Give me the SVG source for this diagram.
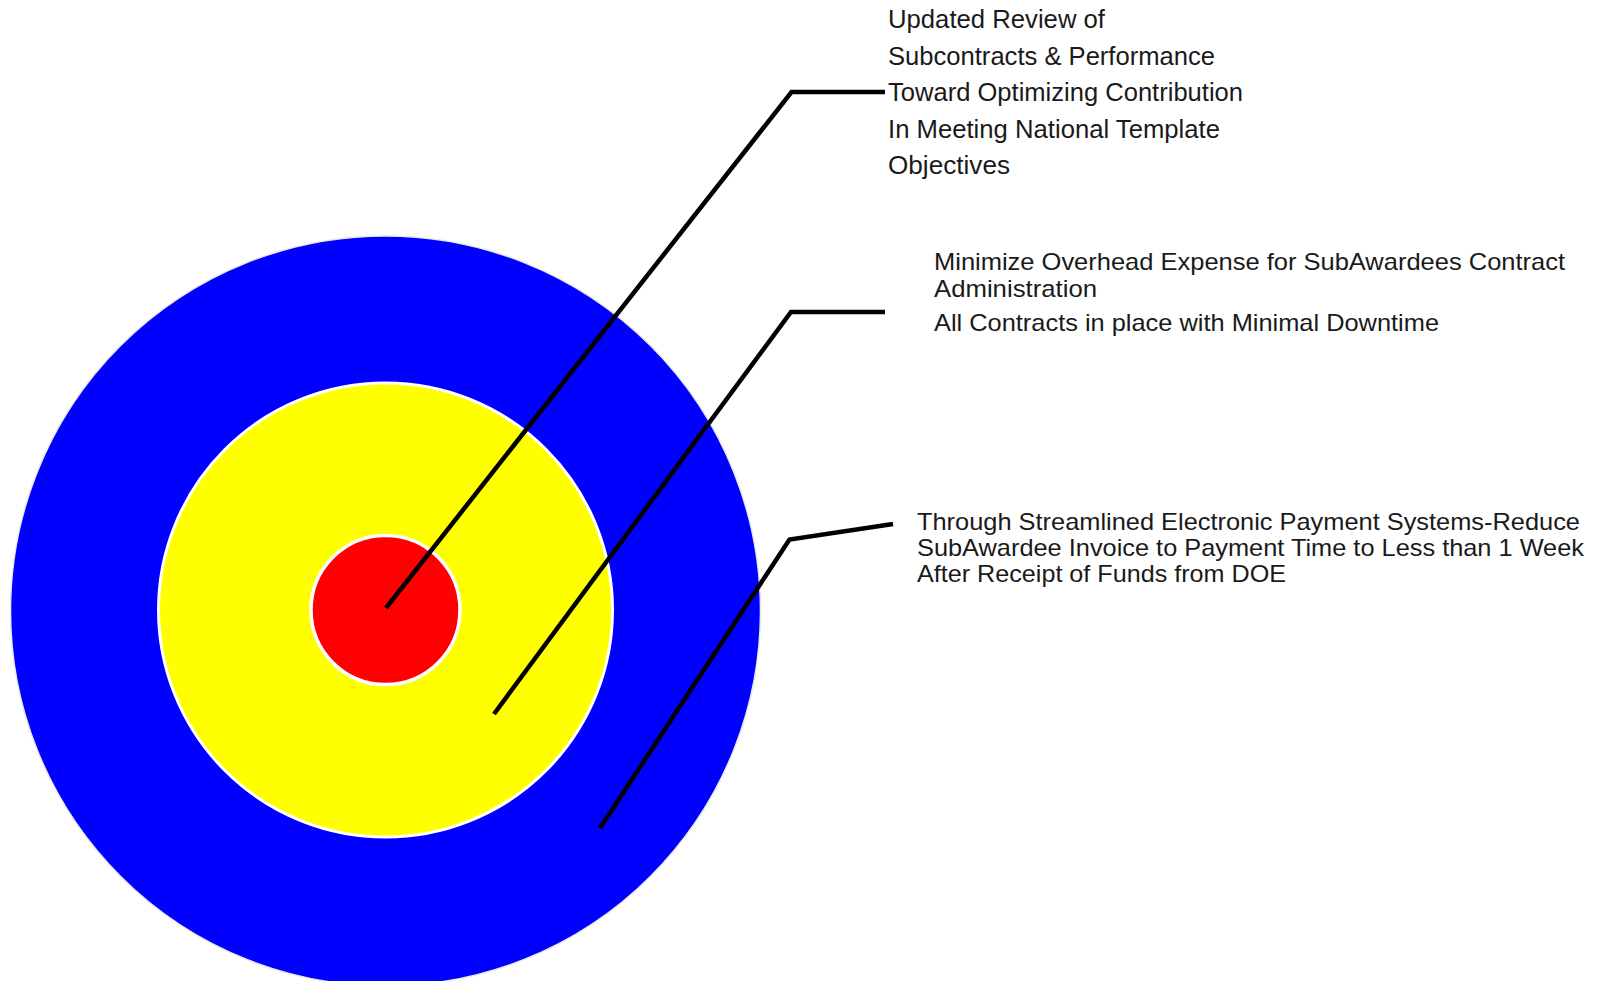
<svg xmlns="http://www.w3.org/2000/svg" width="1606" height="981" viewBox="0 0 1606 981">
  <style>
    .lbl { font-family: "Liberation Sans", Arial, sans-serif; font-size: 24px; fill: #1a1a1a; }
    .big { font-size: 25px; }
    .conn { fill: none; stroke: #000; stroke-width: 4.5; stroke-linejoin: miter; stroke-linecap: butt; }
  </style>
  <rect width="1606" height="981" fill="#fff"/>
  <g id="target">
    <circle id="ring-outer" cx="385.5" cy="611" r="375" fill="#0000ff" stroke="#e8e8e8" stroke-width="1.5"/>
    <circle id="ring-middle" cx="385.5" cy="610" r="227" fill="#ffff00" stroke="#fff" stroke-width="3"/>
    <circle id="ring-inner" cx="385.5" cy="610" r="74.5" fill="#ff0000" stroke="#fff" stroke-width="3.5"/>
  </g>
  <g id="connectors">
    <polyline class="conn" points="386,608 791.5,92 885,92"/>
    <polyline class="conn" points="494,714 791,312 885,312"/>
    <polyline class="conn" points="600,828 789.5,539.5 893,524"/>
  </g>
  <g id="label-inner">
    <text class="lbl big" x="888" y="28" textLength="217" lengthAdjust="spacingAndGlyphs">Updated Review of</text>
    <text class="lbl big" x="888" y="64.5" textLength="327" lengthAdjust="spacingAndGlyphs">Subcontracts &amp; Performance</text>
    <text class="lbl big" x="888" y="101" textLength="355" lengthAdjust="spacingAndGlyphs">Toward Optimizing Contribution</text>
    <text class="lbl big" x="888" y="137.5" textLength="332" lengthAdjust="spacingAndGlyphs">In Meeting National Template</text>
    <text class="lbl big" x="888" y="174" textLength="122" lengthAdjust="spacingAndGlyphs">Objectives</text>
  </g>
  <g id="label-middle">
    <text class="lbl" x="934" y="270" textLength="631" lengthAdjust="spacingAndGlyphs">Minimize Overhead Expense for SubAwardees Contract</text>
    <text class="lbl" x="934" y="296.5" textLength="163" lengthAdjust="spacingAndGlyphs">Administration</text>
    <text class="lbl" x="934" y="331" textLength="505" lengthAdjust="spacingAndGlyphs">All Contracts in place with Minimal Downtime</text>
  </g>
  <g id="label-outer">
    <text class="lbl" x="917" y="530" textLength="663" lengthAdjust="spacingAndGlyphs">Through Streamlined Electronic Payment Systems-Reduce</text>
    <text class="lbl" x="917" y="556" textLength="667" lengthAdjust="spacingAndGlyphs">SubAwardee Invoice to Payment Time to Less than 1 Week</text>
    <text class="lbl" x="917" y="582" textLength="369" lengthAdjust="spacingAndGlyphs">After Receipt of Funds from DOE</text>
  </g>
</svg>
